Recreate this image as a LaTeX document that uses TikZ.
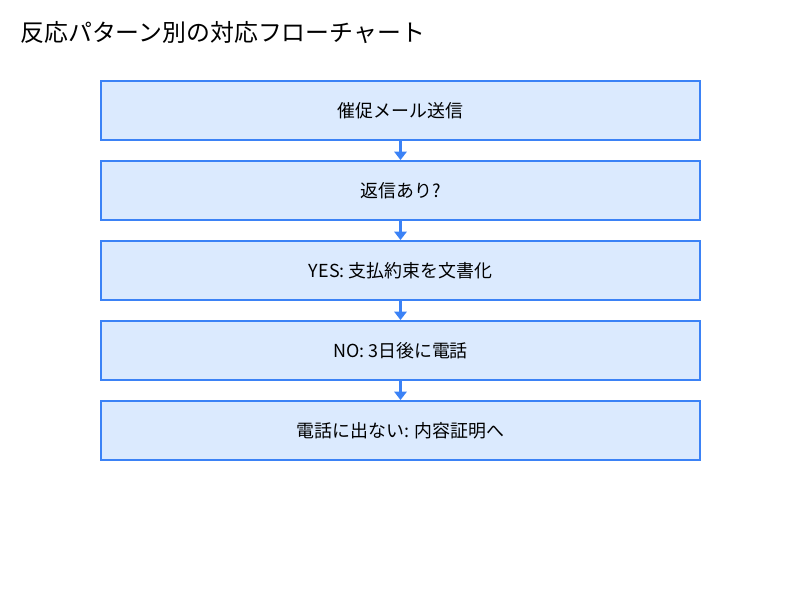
\documentclass[tikz,border=0pt]{standalone}
\usepackage{fontspec}
\setmainfont{Noto Sans CJK JP}
\usetikzlibrary{positioning,arrows.meta}

\definecolor{boxfill}{HTML}{DBEAFE}
\definecolor{boxline}{HTML}{3B82F6}

\begin{document}
\begin{tikzpicture}[x=0.02cm, y=-0.02cm,
    stepbox/.style={draw=boxline, line width=1.1pt, fill=boxfill, minimum width=11.98cm, minimum height=1.18cm, inner sep=0pt, font=\fontsize{10.2pt}{12pt}\selectfont},
    flow/.style={draw=boxline, line width=1.6pt, -{Triangle[width=7pt, length=4.8pt]}}]
    \useasboundingbox (0, 0) rectangle (800, 600);

    \node[anchor=west, inner sep=0pt, font=\fontsize{13.6pt}{16pt}\selectfont] (title) at (20, 33) {反応パターン別の対応フローチャート};

    \node[stepbox] (remind) at (400.5, 110.5) {催促メール送信};
    \node[stepbox] (reply) at (400.5, 190.5) {返信あり?};
    \node[stepbox] (yes) at (400.5, 270.5) {YES: 支払約束を文書化};
    \node[stepbox] (no) at (400.5, 350.5) {NO: 3日後に電話};
    \node[stepbox] (letter) at (400.5, 430.5) {電話に出ない: 内容証明へ};

    \draw[flow] (remind) -- (reply);
    \draw[flow] (reply) -- (yes);
    \draw[flow] (yes) -- (no);
    \draw[flow] (no) -- (letter);
\end{tikzpicture}
\end{document}
